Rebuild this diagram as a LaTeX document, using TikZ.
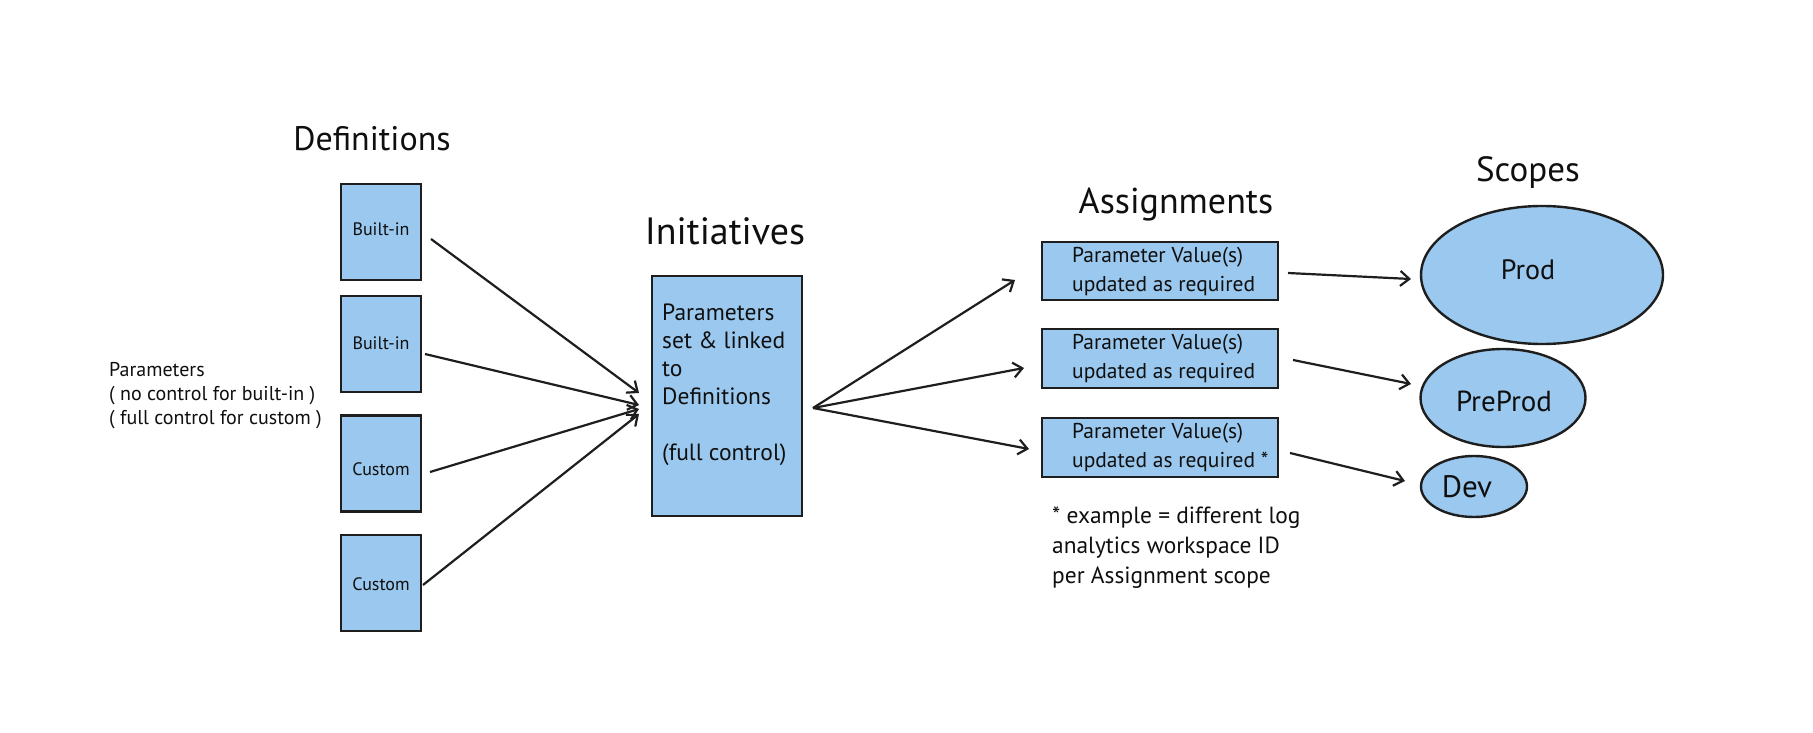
\documentclass[tikz,border=0pt]{standalone}
\usepackage{fontspec}
\setmainfont{PT Sans}
\usetikzlibrary{arrows.meta,shapes.geometric}
\definecolor{boxblue}{RGB}{154,200,238}
\definecolor{edgec}{RGB}{30,30,30}
\definecolor{txt}{RGB}{15,15,15}
\begin{document}
\begin{tikzpicture}[x=1pt,y=-1pt,
  box/.style={draw=edgec,line width=2.4pt,fill=boxblue,inner sep=0pt},
  oval/.style={ellipse,draw=edgec,line width=2.4pt,fill=boxblue,inner sep=0pt},
  ttl/.style={text=txt,inner sep=0pt},
  deftxt/.style={font=\fontsize{18}{20}\selectfont,text=txt,inner sep=0pt},
  note/.style={font=\fontsize{20}{24}\selectfont,text=txt,inner sep=0pt,align=left},
  initxt/.style={font=\fontsize{23.5}{28}\selectfont,text=txt,inner sep=0pt,align=left},
  asgtxt/.style={font=\fontsize{21.5}{29}\selectfont,text=txt,inner sep=0pt,align=left},
  foot/.style={font=\fontsize{23.4}{30}\selectfont,text=txt,inner sep=0pt,align=left},
  scopetxt/.style={text=txt,inner sep=0pt},
  arr/.style={draw=edgec,line width=2.2pt,-{Straight Barb[length=9pt,width=15pt,line width=2.2pt]}}]
\useasboundingbox[fill=white] (0,0) rectangle (1813,733);

% Definitions
\node[ttl,font=\fontsize{34}{40}\selectfont] (tdef) at (372,139) {Definitions};
\node[box,minimum width=80pt,minimum height=96pt] (b1) at (381,232) {};
\node[box,minimum width=80pt,minimum height=96pt] (b2) at (381,344) {};
\node[box,minimum width=80pt,minimum height=96pt] (b3) at (381,463.5) {};
\node[box,minimum width=80pt,minimum height=96pt] (b4) at (381,583) {};
\node[deftxt] (l1) at (381,229) {Built-in};
\node[deftxt] (l2) at (381,343) {Built-in};
\node[deftxt] (l3) at (381,469) {Custom};
\node[deftxt] (l4) at (381,584) {Custom};

\node[note,anchor=north west] (params) at (109,362) {Parameters\\( no control for built-in )\\( full control for custom )};

% Initiatives
\node[ttl,font=\fontsize{38}{44}\selectfont] (tini) at (725,231) {Initiatives};
\node[box,minimum width=150pt,minimum height=240pt] (ini) at (727,396) {};
\node[initxt,anchor=north west] (initext) at (662,304) {Parameters\\set \& linked\\to\\Definitions\\[28pt](full control)};

% Assignments
\node[ttl,font=\fontsize{36}{42}\selectfont] (tasg) at (1176,205) {Assignments};
\node[box,minimum width=236pt,minimum height=58pt] (a1) at (1160,271) {};
\node[box,minimum width=236pt,minimum height=59pt] (a2) at (1160,358.5) {};
\node[box,minimum width=236pt,minimum height=59pt] (a3) at (1160,447.5) {};
\node[asgtxt,anchor=west] (at1) at (1072,271) {Parameter Value(s)\\updated as required};
\node[asgtxt,anchor=west] (at2) at (1072,358.5) {Parameter Value(s)\\updated as required};
\node[asgtxt,anchor=west] (at3) at (1072,447.5) {Parameter Value(s)\\updated as required *};
\node[foot,anchor=north west] (fn) at (1052,507) {* example = different log\\analytics workspace ID\\per Assignment scope};

% Scopes
\node[ttl,font=\fontsize{35}{40}\selectfont] (tscp) at (1528,173) {Scopes};
\node[oval,minimum width=242pt,minimum height=138pt] (prod) at (1542,275) {};
\node[oval,minimum width=165pt,minimum height=98pt] (pre) at (1503,398) {};
\node[oval,minimum width=106pt,minimum height=61pt] (dev) at (1474,486.5) {};
\node[scopetxt,font=\fontsize{28}{32}\selectfont] (tprod) at (1528,270) {Prod};
\node[scopetxt,font=\fontsize{29}{32}\selectfont] (tpre) at (1504,401) {PreProd};
\node[scopetxt,font=\fontsize{31}{34}\selectfont] (tdev) at (1467,487) {Dev};

% connectors
\coordinate (s1) at (431,239);
\coordinate (s2) at (425,354);
\coordinate (s3) at (430,472);
\coordinate (s4) at (423,585);
\coordinate (e1) at (639,393);
\coordinate (e2) at (639,405);
\coordinate (e3) at (639,409);
\coordinate (e4) at (639,414);
\draw[arr] (s1) -- (e1);
\draw[arr] (s2) -- (e2);
\draw[arr] (s3) -- (e3);
\draw[arr] (s4) -- (e4);

\coordinate (o) at (813,408);
\coordinate (f1) at (1015,280);
\coordinate (f2) at (1024,368);
\coordinate (f3) at (1029,449);
\draw[arr] (o) -- (f1);
\draw[arr] (o) -- (f2);
\draw[arr] (o) -- (f3);

\coordinate (g1) at (1288,273);
\coordinate (h1) at (1411,279);
\coordinate (g2) at (1293,360);
\coordinate (h2) at (1411,384);
\coordinate (g3) at (1290,453);
\coordinate (h3) at (1405,481);
\draw[arr] (g1) -- (h1);
\draw[arr] (g2) -- (h2);
\draw[arr] (g3) -- (h3);
\end{tikzpicture}
\end{document}
